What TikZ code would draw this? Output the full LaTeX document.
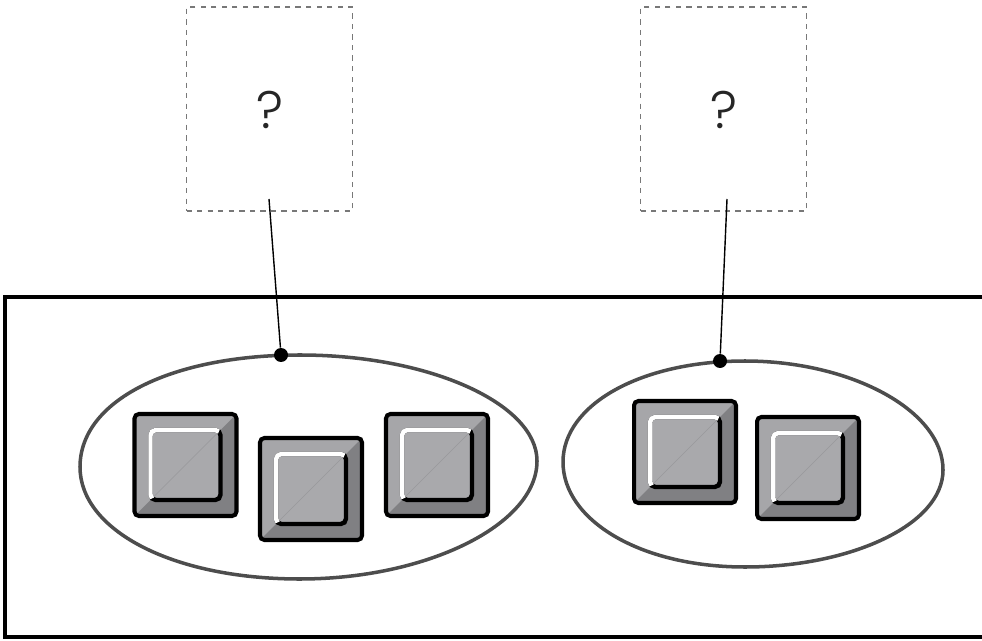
\documentclass[tikz,border=0pt]{standalone}
\usepackage{fontspec}
\newfontfamily\askfont{Poppins Light}
\definecolor{keylight}{HTML}{A6A6A9}
\definecolor{keyface}{HTML}{A9A9AC}
\definecolor{keydark}{HTML}{808083}
\definecolor{keyline}{HTML}{98989B}
\definecolor{groupline}{HTML}{4D4D4D}
\definecolor{slotline}{HTML}{787878}
\tikzset{
  keyouter/.style={draw=black,line width=2.3pt,fill=keylight,rounded corners=2.5pt,
    minimum width=2.04cm,minimum height=2.04cm,outer sep=0pt,
    path picture={\fill[keydark] (path picture bounding box.south west)--(path picture bounding box.north east)--(path picture bounding box.south east)--cycle;}},
  keyinner/.style={draw=black,line width=2.5pt,fill=keyface,rounded corners=3pt,
    minimum width=1.4cm,minimum height=1.4cm,outer sep=0pt,
    path picture={\draw[keyline,line width=0.3pt] (path picture bounding box.south west)--(path picture bounding box.north east);}},
  keyedge/.style={draw=white,line width=2.55pt},
  group/.style={draw=groupline,line width=2pt},
  slot/.style={draw=slotline,dashed,line width=0.7pt,minimum width=3.32cm,minimum height=4.08cm},
  askmark/.style={font=\askfont\fontsize{30}{30}\selectfont,text=black!85},
  pin/.style={circle,fill=black,inner sep=0pt,minimum size=0.28cm},
}
\newcommand{\keycap}[3]{
\node[keyouter] (#1) at (#2,#3) {};
\node[keyinner] (#1in) at (#2,#3) {};
\begin{scope}[shift={(#2,#3)}]
\draw[keyedge] (-33.4,33.4) .. controls (-34.4,32.4) and (-35,31.1) .. (-35,29.7)--(-35,-29.7) .. controls (-35,-32.6) and (-32.6,-35) .. (-29.7,-35)--(29.7,-35) .. controls (31.1,-35) and (32.4,-34.4) .. (33.4,-33.4);
\end{scope}
}
\begin{document}
\begin{tikzpicture}[x=0.02cm,y=-0.02cm]
\useasboundingbox (0,0) rectangle (982,641);

\draw[line width=2pt] (982,297)--(5,297)--(5,637)--(982,637);

% left group
\draw[group] (80,467) .. controls (80,400) and (172,355) .. (300,355) .. controls (430,355) and (537,404) .. (537,461) .. controls (537,525) and (426,579) .. (300,579) .. controls (172,579) and (80,530) .. (80,467)--cycle;
\keycap{keya}{185.5}{465}
\keycap{keyb}{311}{489}
\keycap{keyc}{437}{465}

% right group
\draw[group] (563,462) .. controls (563,405) and (640,361) .. (745,361) .. controls (850,361) and (943,410) .. (943,470) .. controls (943,525) and (850,567) .. (745,567) .. controls (640,567) and (563,520) .. (563,462)--cycle;
\keycap{keyd}{685}{452}
\keycap{keye}{808}{468}

% open slots
\node[slot] (slota) at (269.5,109) {};
\node[slot] (slotb) at (723.5,109) {};
\node[askmark] (aska) at (270,110) {?};
\node[askmark] (askb) at (724,110) {?};

\coordinate (enda) at (269,199);
\coordinate (endb) at (727,199);
\node[pin] (pina) at (281,355) {};
\node[pin] (pinb) at (720,361) {};
\draw[line width=0.8pt] (enda)--(pina);
\draw[line width=0.8pt] (endb)--(pinb);
\end{tikzpicture}
\end{document}
